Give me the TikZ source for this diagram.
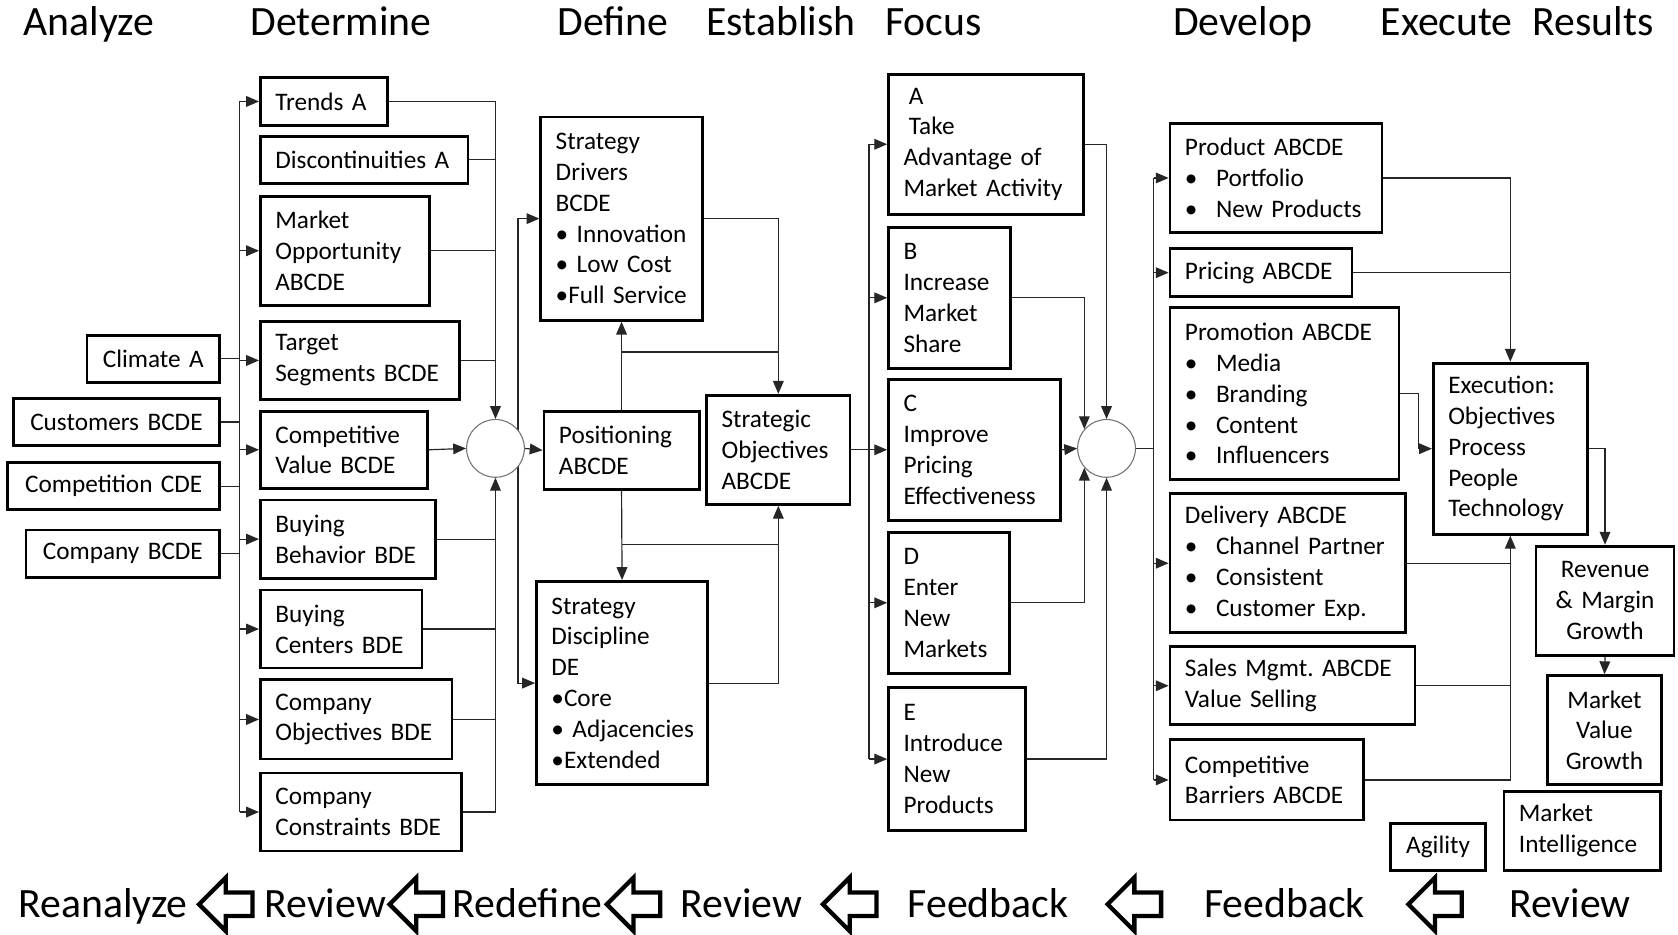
\documentclass[tikz,border=0pt]{standalone}
\usepackage{fontspec}
\setmainfont{Carlito}
\usetikzlibrary{arrows.meta,backgrounds}

\newcommand\boxfont{\fontsize{23.6}{28.8}\selectfont\hyphenpenalty=10000\exhyphenpenalty=10000}
\newcommand\headfont{\fontsize{39}{46}\selectfont}
\newcommand\bulletgap{\makebox[29pt][l]{•}}

\tikzset{
  box/.style={draw, line width=2.6pt, inner xsep=14pt, inner ysep=0pt,
    align=left, anchor=north west, font=\boxfont},
  cbox/.style={box, align=center},
  sz/.style 2 args={minimum width=#1pt, minimum height=#2pt,
    /utils/exec={\pgfmathsetmacro\boxtw{#1-28}}, text width/.expanded={\boxtw pt}},
  junction/.style={circle, draw=black!55, line width=1pt, fill=white,
    minimum size=54pt, inner sep=0pt},
  conn/.style={draw=black!85, line width=1.1pt},
  arr/.style={conn, -{Triangle[length=12pt,width=10pt]}},
  head/.style={anchor=base west, font=\headfont, inner sep=0pt},
  backarrow/.style={draw, line width=4pt, fill=white}
}

\begin{document}
\begin{tikzpicture}[x=1pt, y=-1pt]
\useasboundingbox (0,0) rectangle (1568,873);

% stage headings
\node[head] (hAnalyze)   at (22,33)   {Analyze};
\node[head] (hDetermine) at (234,33)  {Determine};
\node[head] (hDefine)    at (521,33)  {Define};
\node[head] (hEstablish) at (660,33)  {Establish};
\node[head] (hFocus)     at (827,33)  {Focus};
\node[head] (hDevelop)   at (1096,33) {Develop};
\node[head] (hExecute)   at (1290,33) {Execute};
\node[head] (hResults)   at (1432,33) {Results};

% analysis inputs
\node[cbox, sz={124}{44}] (climate)     at (80,312) {Climate~A};
\node[cbox, sz={193}{44}] (customers)   at (11,371) {Customers~BCDE};
\node[cbox, sz={198}{44}] (competition) at (6,431)  {Competition~CDE};
\node[cbox, sz={181}{44}] (company)     at (23,494) {Company~BCDE};

% determine column
\node[box, sz={119}{45}]  (trends)  at (242,71)  {Trends~A};
\node[box, sz={194}{44}]  (discont) at (242,126) {Discontinuities~A};
\node[box, sz={158}{102}] (mopp)    at (242,182) {Market\\Opportunity\\ABCDE};
\node[box, sz={186}{73}]  (target)  at (242,299) {Target\\Segments~BCDE};
\node[box, sz={156}{72}]  (cvalue)  at (242,383) {Competitive\\Value~BCDE};
\node[box, sz={164}{73}]  (bbeh)    at (242,466) {Buying\\Behavior~BDE};
\node[box, sz={151}{73}]  (bcent)   at (242,550) {Buying\\Centers~BDE};
\node[box, sz={179}{74}]  (cobj)    at (242,634) {Company\\Objectives~BDE};
\node[box, sz={188}{73}]  (ccons)   at (242,721) {Company\\Constraints~BDE};

\node[junction] (j1) at (463,419) {};

% define / establish
\node[box, sz={151}{190}] (drivers)  at (504,108) {Strategy\\Drivers\\BCDE\\•~Innovation\\•~Low~Cost\\•Full~Service};
\node[box, sz={145}{73}]  (posit)    at (507,383) {Positioning\\ABCDE};
\node[box, sz={160}{190}] (discip)   at (500,542) {Strategy\\Discipline\\DE\\•Core\\•~Adjacencies\\•Extended};
\node[box, sz={134}{102}] (stratobj) at (659,368) {Strategic\\Objectives\\ABCDE};

% focus options
\node[box, sz={182}{131}] (fa) at (829,68)  {\hspace*{5pt}A\\\hspace*{5pt}Take\\Advantage~of\\Market~Activity};
\node[box, sz={114}{132}] (fb) at (829,211) {B\\Increase\\Market\\Share};
\node[box, sz={161}{132}] (fc) at (829,353) {C\\Improve\\Pricing\\Effectiveness};
\node[box, sz={113}{132}] (fd) at (829,496) {D\\Enter\\New\\Markets};
\node[box, sz={128}{134}] (fe) at (829,641) {E\\Introduce\\New\\Products};

\node[junction] (j2) at (1034,419) {};

% develop column
\node[box, sz={198}{102}] (product)  at (1092,114) {Product~ABCDE\\\bulletgap Portfolio\\\bulletgap New~Products};
\node[box, sz={170}{45}]  (pricing)  at (1092,231) {Pricing~ABCDE};
\node[box, sz={214}{161}] (promo)    at (1092,286) {Promotion~ABCDE\\\bulletgap Media\\\bulletgap Branding\\\bulletgap Content\\\bulletgap Influencers};
\node[box, sz={220}{130}] (delivery) at (1092,460) {Delivery\hspace{8pt}ABCDE\\\bulletgap Channel~Partner\\\bulletgap Consistent\\\bulletgap Customer~Exp.};
\node[box, sz={229}{73}]  (sales)    at (1092,603) {Sales~Mgmt.~ABCDE\\Value~Selling};
\node[box, sz={181}{75}]  (barriers) at (1092,690) {Competitive\\Barriers~ABCDE};

% execution and results
\node[box, sz={144}{160}]  (exec)    at (1338,338) {Execution:\\Objectives\\Process\\People\\Technology};
\node[cbox, sz={129}{102}] (revenue) at (1434,509) {Revenue\\\&~Margin\\Growth};
\node[cbox, sz={106}{102}] (mvalue)  at (1445,630) {Market\\Value\\Growth};
\node[box, sz={146}{74}]   (intel)   at (1404,738) {Market\\Intelligence};
\node[cbox, sz={89}{44}]   (agility) at (1298,768) {Agility};

% feedback row
\node[head] (bReanalyze) at (17,857)   {Reanalyze};
\node[head] (bReview1)   at (247,857)  {Review};
\node[head] (bRedefine)  at (423,857)  {Redefine};
\node[head] (bReview2)   at (636,857)  {Review};
\node[head] (bFeedback1) at (848,857)  {Feedback};
\node[head] (bFeedback2) at (1125,857) {Feedback};
\node[head] (bReview3)   at (1410,857) {Review};

\foreach \t in {186,364,567,769,1035,1316}
  \draw[backarrow] (\t,845) -- ++(25,-25) -- ++(0,14) -- ++(25,0)
    -- ++(0,22) -- ++(-25,0) -- ++(0,14) -- cycle;

\begin{scope}[on background layer]
  \fill[white] (0,0) rectangle (1568,873);

  % inputs onto the left bus
  \coordinate (busA) at (224,0);
  \draw[conn] (trends.west -| busA) -- (ccons.west -| busA);
  \foreach \n in {climate,customers,competition,company}
    \draw[conn] (\n.east) -- (\n.east -| busA);
  \foreach \n in {trends,mopp,target,cvalue,bbeh,bcent,cobj,ccons}
    \draw[arr] (\n.west -| busA) -- (\n.west);

  % collectors into the first junction
  \draw[arr] (trends.east) -| (j1.north);
  \foreach \n in {discont,mopp,target}
    \draw[conn] (\n.east) -- (\n.east -| j1.north);
  \draw[arr] (ccons.east) -| (j1.south);
  \foreach \n in {bbeh,bcent,cobj}
    \draw[conn] (\n.east) -- (\n.east -| j1.south);
  \draw[arr] (cvalue.east) -- (j1.west);

  % junction to define stage
  \coordinate (busB) at (484,0);
  \draw[arr] (j1.east) -- (posit.west);
  \draw[arr] (j1.east -| busB) |- (drivers.west);
  \draw[arr] (j1.east -| busB) |- (discip.west);

  \coordinate (jy1) at (0,329);
  \coordinate (jy2) at (0,509);
  \draw[arr] (posit.north) -- (drivers.south);
  \draw[arr] (drivers.east) -| (stratobj.north);
  \draw[conn] (posit.north |- jy1) -- (stratobj.north |- jy1);
  \draw[arr] (posit.south) -- (discip.north);
  \draw[arr] (discip.east) -| (stratobj.south);
  \draw[conn] (posit.south |- jy2) -- (stratobj.south |- jy2);

  % objectives to focus options
  \coordinate (busC) at (812,0);
  \draw[arr] (stratobj.east) -- (fc.west);
  \draw[conn] (fa.west -| busC) -- (fe.west -| busC);
  \foreach \n in {fa,fb,fd,fe}
    \draw[arr] (\n.west -| busC) -- (\n.west);

  % focus options into the second junction
  \draw[arr] (fa.east) -| (j2.north);
  \draw[arr] (fb.east) -| (j2.139);
  \draw[arr] (fc.east) -- (j2.west);
  \draw[arr] (fd.east) -| (j2.221);
  \draw[arr] (fe.east) -| (j2.south);

  % junction to develop column
  \coordinate (busD) at (1078,0);
  \draw[conn] (j2.east) -- (j2.east -| busD);
  \draw[conn] (product.west -| busD) -- (barriers.west -| busD);
  \foreach \n in {product,pricing,delivery,sales,barriers}
    \draw[arr] (\n.west -| busD) -- (\n.west);

  % develop into execution
  \draw[arr] (product.east) -| (exec.north);
  \draw[conn] (pricing.east) -- (pricing.east -| exec.north);
  \draw[arr] (promo.east) -- ++(17,0) |- (exec.west);
  \draw[arr] (barriers.east) -| (exec.south);
  \draw[conn] (delivery.east) -- (delivery.east -| exec.south);
  \draw[conn] (sales.east) -- (sales.east -| exec.south);

  % results
  \draw[arr] (exec.east) -| (revenue.north);
  \draw[arr] (revenue.south) -- (mvalue.north);
\end{scope}
\end{tikzpicture}
\end{document}
